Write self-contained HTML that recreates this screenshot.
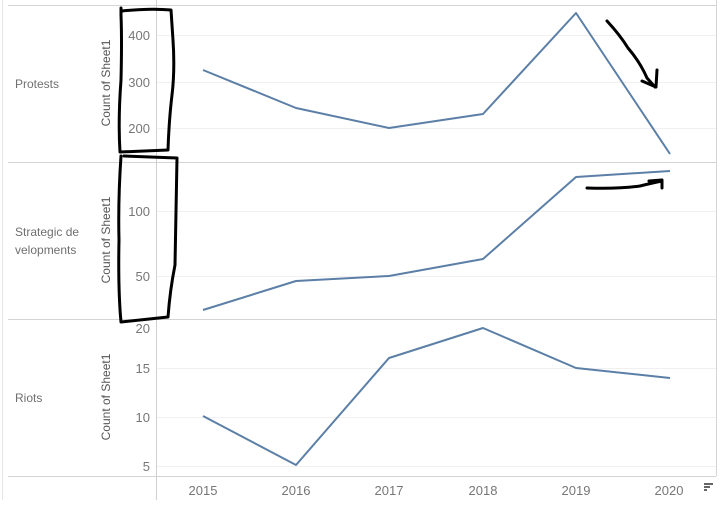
<!DOCTYPE html>
<html><head><meta charset="utf-8"><style>
html,body{margin:0;padding:0;background:#fff;}
svg{display:block;font-family:"Liberation Sans",sans-serif;}
</style></head><body>
<svg width="722" height="506" viewBox="0 0 722 506" xmlns="http://www.w3.org/2000/svg">
<rect width="722" height="506" fill="#fff"/>
<line x1="2.5" y1="0" x2="2.5" y2="500" stroke="#e6e6e6"/>
<line x1="716.5" y1="0" x2="716.5" y2="476" stroke="#d4d4d4"/>
<!-- gridlines -->
<g stroke="#f0f0f0" stroke-width="1">
<line x1="157" y1="35.5" x2="716" y2="35.5"/>
<line x1="157" y1="82.5" x2="716" y2="82.5"/>
<line x1="157" y1="128.5" x2="716" y2="128.5"/>
<line x1="157" y1="211.5" x2="716" y2="211.5"/>
<line x1="157" y1="276.5" x2="716" y2="276.5"/>
<line x1="157" y1="368.5" x2="716" y2="368.5"/>
<line x1="157" y1="417.5" x2="716" y2="417.5"/>
<line x1="157" y1="466.5" x2="716" y2="466.5"/>
</g>
<g stroke="#d4d4d4" stroke-width="1">
<line x1="8" y1="5.5" x2="716" y2="5.5"/>
<line x1="8" y1="162.5" x2="716" y2="162.5"/>
<line x1="8" y1="319.5" x2="716" y2="319.5"/>
<line x1="8" y1="476.5" x2="716" y2="476.5"/>
<line x1="156.5" y1="0" x2="156.5" y2="500" stroke="#d0d0d0"/>
</g>
<g fill="#6f6f6f" font-size="12">
<text x="15" y="88">Protests</text>
<text x="15" y="236">Strategic de</text>
<text x="15" y="254">velopments</text>
<text x="15" y="402">Riots</text>
</g>
<g fill="#555" font-size="12">
<text transform="translate(110,83) rotate(-90)" text-anchor="middle">Count of Sheet1</text>
<text transform="translate(110,240) rotate(-90)" text-anchor="middle">Count of Sheet1</text>
<text transform="translate(110,397) rotate(-90)" text-anchor="middle">Count of Sheet1</text>
</g>
<g fill="#777" font-size="13" text-anchor="end">
<text x="150" y="40">400</text>
<text x="150" y="87">300</text>
<text x="150" y="133">200</text>
<text x="150" y="216">100</text>
<text x="150" y="281">50</text>
<text x="150" y="333">20</text>
<text x="150" y="373">15</text>
<text x="150" y="422">10</text>
<text x="150" y="471">5</text>
</g>
<g fill="#777" font-size="13" text-anchor="middle">
<text x="203" y="495">2015</text>
<text x="296" y="495">2016</text>
<text x="389" y="495">2017</text>
<text x="483" y="495">2018</text>
<text x="576" y="495">2019</text>
<text x="669" y="495">2020</text>
</g>
<g fill="none" stroke="#5b7fa6" stroke-width="2" stroke-linejoin="round">
<polyline points="203,70 296,108 389,128 483,114 576,13 670,154"/>
<polyline points="203,310 296,281 389,276 483,259 576,177 670,171"/>
<polyline points="203,416 296,465 389,358 483,328 576,368 670,378"/>
</g>
<!-- hand drawn annotations -->
<g fill="none" stroke="#000" stroke-width="3" stroke-linecap="round" stroke-linejoin="round">
<path d="M121,8 L121,15 Q122,40 121,80 Q118,120 120,152 L168,150 Q169,120 172,95 Q175,70 173,40 L171,10 Q150,8 122,11"/>
<path d="M121,156 Q118,200 119,240 Q118,290 121,322 L168,317 Q170,290 175,265 Q176,220 177,158 L124,156"/>
<path d="M607,21 Q620,35 628,48 Q640,62 647,78 L655,87 M642,81 L656,87 L657,70"/>
<path d="M587,188 Q620,189 640,186 Q652,183 662,181 M649,181 L662,180 L662,188"/>
</g>
<g fill="#666"><rect x="704" y="483" width="9" height="2"/><rect x="704" y="486" width="6" height="2"/><rect x="704" y="489" width="3" height="2"/></g>
</svg>
</body></html>
